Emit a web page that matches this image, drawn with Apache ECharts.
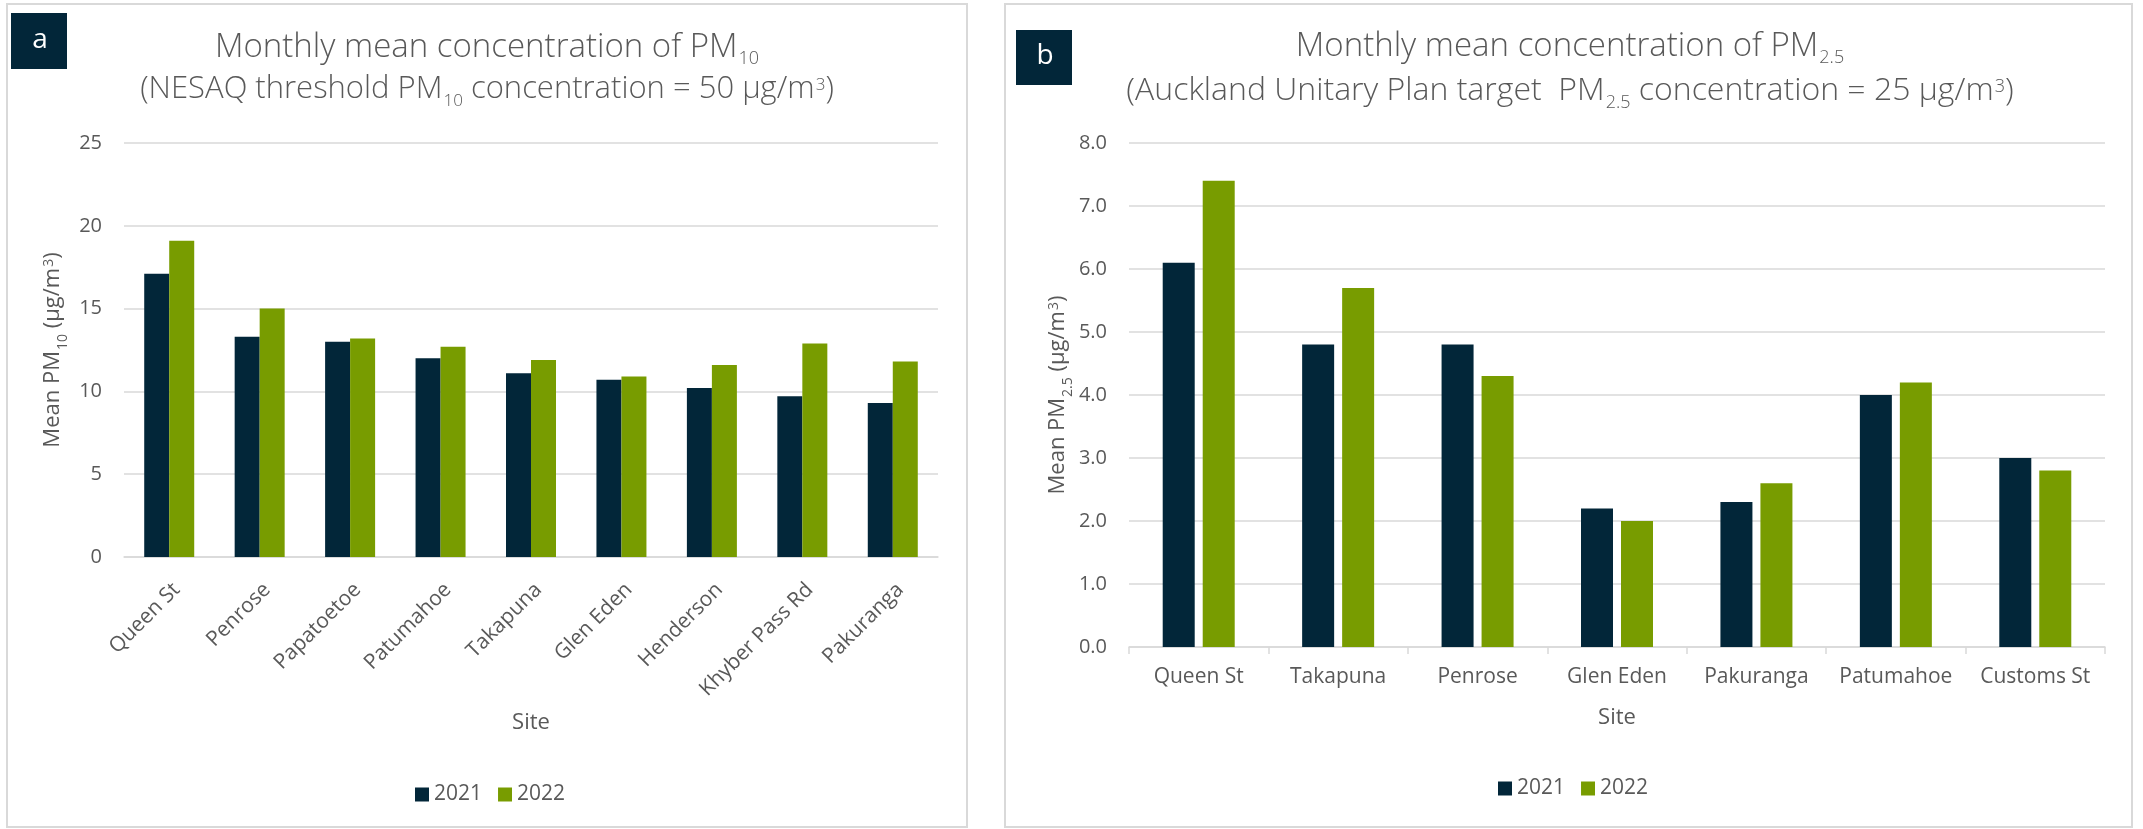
<!DOCTYPE html>
<html>
<head>
<meta charset="utf-8">
<script src="https://cdn.jsdelivr.net/npm/echarts@6/dist/echarts.min.js"></script>
<style>
  html, body { margin: 0; padding: 0; background: #ffffff; }
  #chart { width: 2143px; height: 829px; }
</style>
</head>
<body>
<div id="chart"></div>
<script>
// PM10 monthly means by site (µg/m³)
const pm10Sites = ['Queen St', 'Penrose', 'Papatoetoe', 'Patumahoe', 'Takapuna', 'Glen Eden', 'Henderson', 'Khyber Pass Rd', 'Pakuranga'];
const pm10Y2021 = [17.1, 13.3, 13.0, 12.0, 11.1, 10.7, 10.2, 9.7, 9.3];
const pm10Y2022 = [19.1, 15.0, 13.2, 12.7, 11.9, 10.9, 11.6, 12.9, 11.8];

// PM2.5 monthly means by site (µg/m³)
const pm25Sites = ['Queen St', 'Takapuna', 'Penrose', 'Glen Eden', 'Pakuranga', 'Patumahoe', 'Customs St'];
const pm25Y2021 = [6.1, 4.8, 4.8, 2.2, 2.3, 4.0, 3.0];
const pm25Y2022 = [7.4, 5.7, 4.3, 2.0, 2.6, 4.2, 2.8];

const years = ['2021', '2022'];

const FONT = 'Open Sans';
const GREY = '#595959';
const NAVY = '#022639';
const GREEN = '#789C00';
const RULE = '#d9d9d9';

// rich styles for a title line of a given size: base text plus sub/superscript tokens
function titleRich(size) {
  const small = Math.round(size * 0.56);
  const base = { align: 'left', fontFamily: FONT, fontWeight: 300, color: GREY, verticalAlign: 'top' };
  return {
    t:   Object.assign({}, base, { fontSize: size, lineHeight: 38 }),
    sub: Object.assign({}, base, { fontSize: small, lineHeight: small, padding: [19, 0, 0, 1] }),
    sup: Object.assign({}, base, { fontSize: small, lineHeight: small, padding: [3, 0, 0, 1] })
  };
}
const nameRich = {
  n: { align: 'left', fontFamily: FONT, fontSize: 22, lineHeight: 26, color: GREY, verticalAlign: 'top' },
  s: { align: 'left', fontFamily: FONT, fontSize: 14, lineHeight: 14, color: GREY, verticalAlign: 'top', padding: [14, 0, 0, 1] },
  p: { align: 'left', fontFamily: FONT, fontSize: 14, lineHeight: 14, color: GREY, verticalAlign: 'top', padding: [0, 0, 0, 1] }
};

function titleLine(text, x, y, size) {
  return {
    text: text, left: x, top: y, textAlign: 'center', padding: 0,
    textStyle: { fontFamily: FONT, fontSize: size, fontWeight: 300, color: GREY, rich: titleRich(size) }
  };
}

const yTickText = { color: GREY, fontFamily: FONT, fontSize: 20 };
const xTickText = { color: GREY, fontFamily: FONT, fontSize: 21 };

function valueAxis(gridIndex, max, interval, name, fmt) {
  return {
    gridIndex: gridIndex, type: 'value', min: 0, max: max, interval: interval,
    name: name, nameLocation: 'middle', nameRotate: 90, nameGap: 56,
    nameTextStyle: { rich: nameRich },
    axisLine: { show: false }, axisTick: { show: false },
    axisLabel: Object.assign({ margin: 22, formatter: fmt }, yTickText),
    splitLine: { lineStyle: { color: RULE, width: 1.5 } }
  };
}

const chart = echarts.init(document.getElementById('chart'), null, { renderer: 'canvas' });

chart.setOption({
  animation: false,
  backgroundColor: '#ffffff',
  title: [
    titleLine('{t|Monthly mean concentration of PM}{sub|10}', 487, 31, 33),
    titleLine('{t|(NESAQ threshold PM}{sub|10}{t| concentration = 50 µg/m}{sup|3}{t|)}', 487, 74, 31),
    titleLine('{t|Monthly mean concentration of PM}{sub|2.5}', 1570, 30, 33),
    titleLine('{t|(Auckland Unitary Plan target  PM}{sub|2.5}{t| concentration = 25 µg/m}{sup|3}{t|)}', 1570, 75, 32)
  ],
  legend: [
    { data: years, left: 415, top: 784, padding: 0, icon: 'rect', itemWidth: 14, itemHeight: 14, itemGap: 16, textStyle: xTickText },
    { data: years, left: 1498, top: 778, padding: 0, icon: 'rect', itemWidth: 14, itemHeight: 14, itemGap: 16, textStyle: xTickText }
  ],
  grid: [
    { left: 124, top: 143, width: 814, height: 414, outerBoundsMode: 'none' },
    { left: 1129, top: 143, width: 976, height: 504, outerBoundsMode: 'none' }
  ],
  xAxis: [
    {
      gridIndex: 0, type: 'category', data: pm10Sites,
      name: 'Site', nameLocation: 'middle', nameGap: 155,
      nameTextStyle: { color: GREY, fontFamily: FONT, fontSize: 22 },
      axisLine: { lineStyle: { color: RULE, width: 1.5 } },
      axisTick: { show: false },
      axisLabel: Object.assign({ rotate: 45, interval: 0, margin: 22, verticalAlign: 'top' }, xTickText)
    },
    {
      gridIndex: 1, type: 'category', data: pm25Sites,
      name: 'Site', nameLocation: 'middle', nameGap: 60,
      nameTextStyle: { color: GREY, fontFamily: FONT, fontSize: 22 },
      axisLine: { lineStyle: { color: RULE, width: 1.5 } },
      axisTick: { show: true, length: 7, lineStyle: { color: RULE, width: 1.5 } },
      axisLabel: Object.assign({ interval: 0, margin: 20 }, xTickText)
    }
  ],
  yAxis: [
    valueAxis(0, 25, 5, '{n|Mean PM}{s|10}{n| (µg/m}{p|3}{n|)}', function (v) { return String(v); }),
    valueAxis(1, 8, 1, '{n|Mean PM}{s|2.5}{n| (µg/m}{p|3}{n|)}', function (v) { return v.toFixed(1); })
  ],
  series: [
    { type: 'bar', name: '2021', xAxisIndex: 0, yAxisIndex: 0, data: pm10Y2021, barWidth: 25, barGap: '0%', itemStyle: { color: NAVY } },
    { type: 'bar', name: '2022', xAxisIndex: 0, yAxisIndex: 0, data: pm10Y2022, barWidth: 25, barGap: '0%', itemStyle: { color: GREEN } },
    { type: 'bar', name: '2021', xAxisIndex: 1, yAxisIndex: 1, data: pm25Y2021, barWidth: 32, barGap: '25%', itemStyle: { color: NAVY } },
    { type: 'bar', name: '2022', xAxisIndex: 1, yAxisIndex: 1, data: pm25Y2022, barWidth: 32, barGap: '25%', itemStyle: { color: GREEN } }
  ],
  graphic: [
    // panel frames
    { type: 'rect', silent: true, shape: { x: 7, y: 4, width: 960, height: 823 }, style: { fill: 'none', stroke: RULE, lineWidth: 2 } },
    { type: 'rect', silent: true, shape: { x: 1005, y: 4, width: 1127, height: 823 }, style: { fill: 'none', stroke: RULE, lineWidth: 2 } },
    // panel tags
    { type: 'rect', silent: true, shape: { x: 11, y: 13, width: 56, height: 56 }, style: { fill: NAVY } },
    { type: 'text', silent: true, x: 40, y: 40, style: { text: 'a', fill: '#ffffff', font: '28px "Open Sans"', align: 'center', verticalAlign: 'middle' } },
    { type: 'rect', silent: true, shape: { x: 1016, y: 30, width: 56, height: 55 }, style: { fill: NAVY } },
    { type: 'text', silent: true, x: 1045, y: 56, style: { text: 'b', fill: '#ffffff', font: '28px "Open Sans"', align: 'center', verticalAlign: 'middle' } }
  ]
});
</script>
</body>
</html>
